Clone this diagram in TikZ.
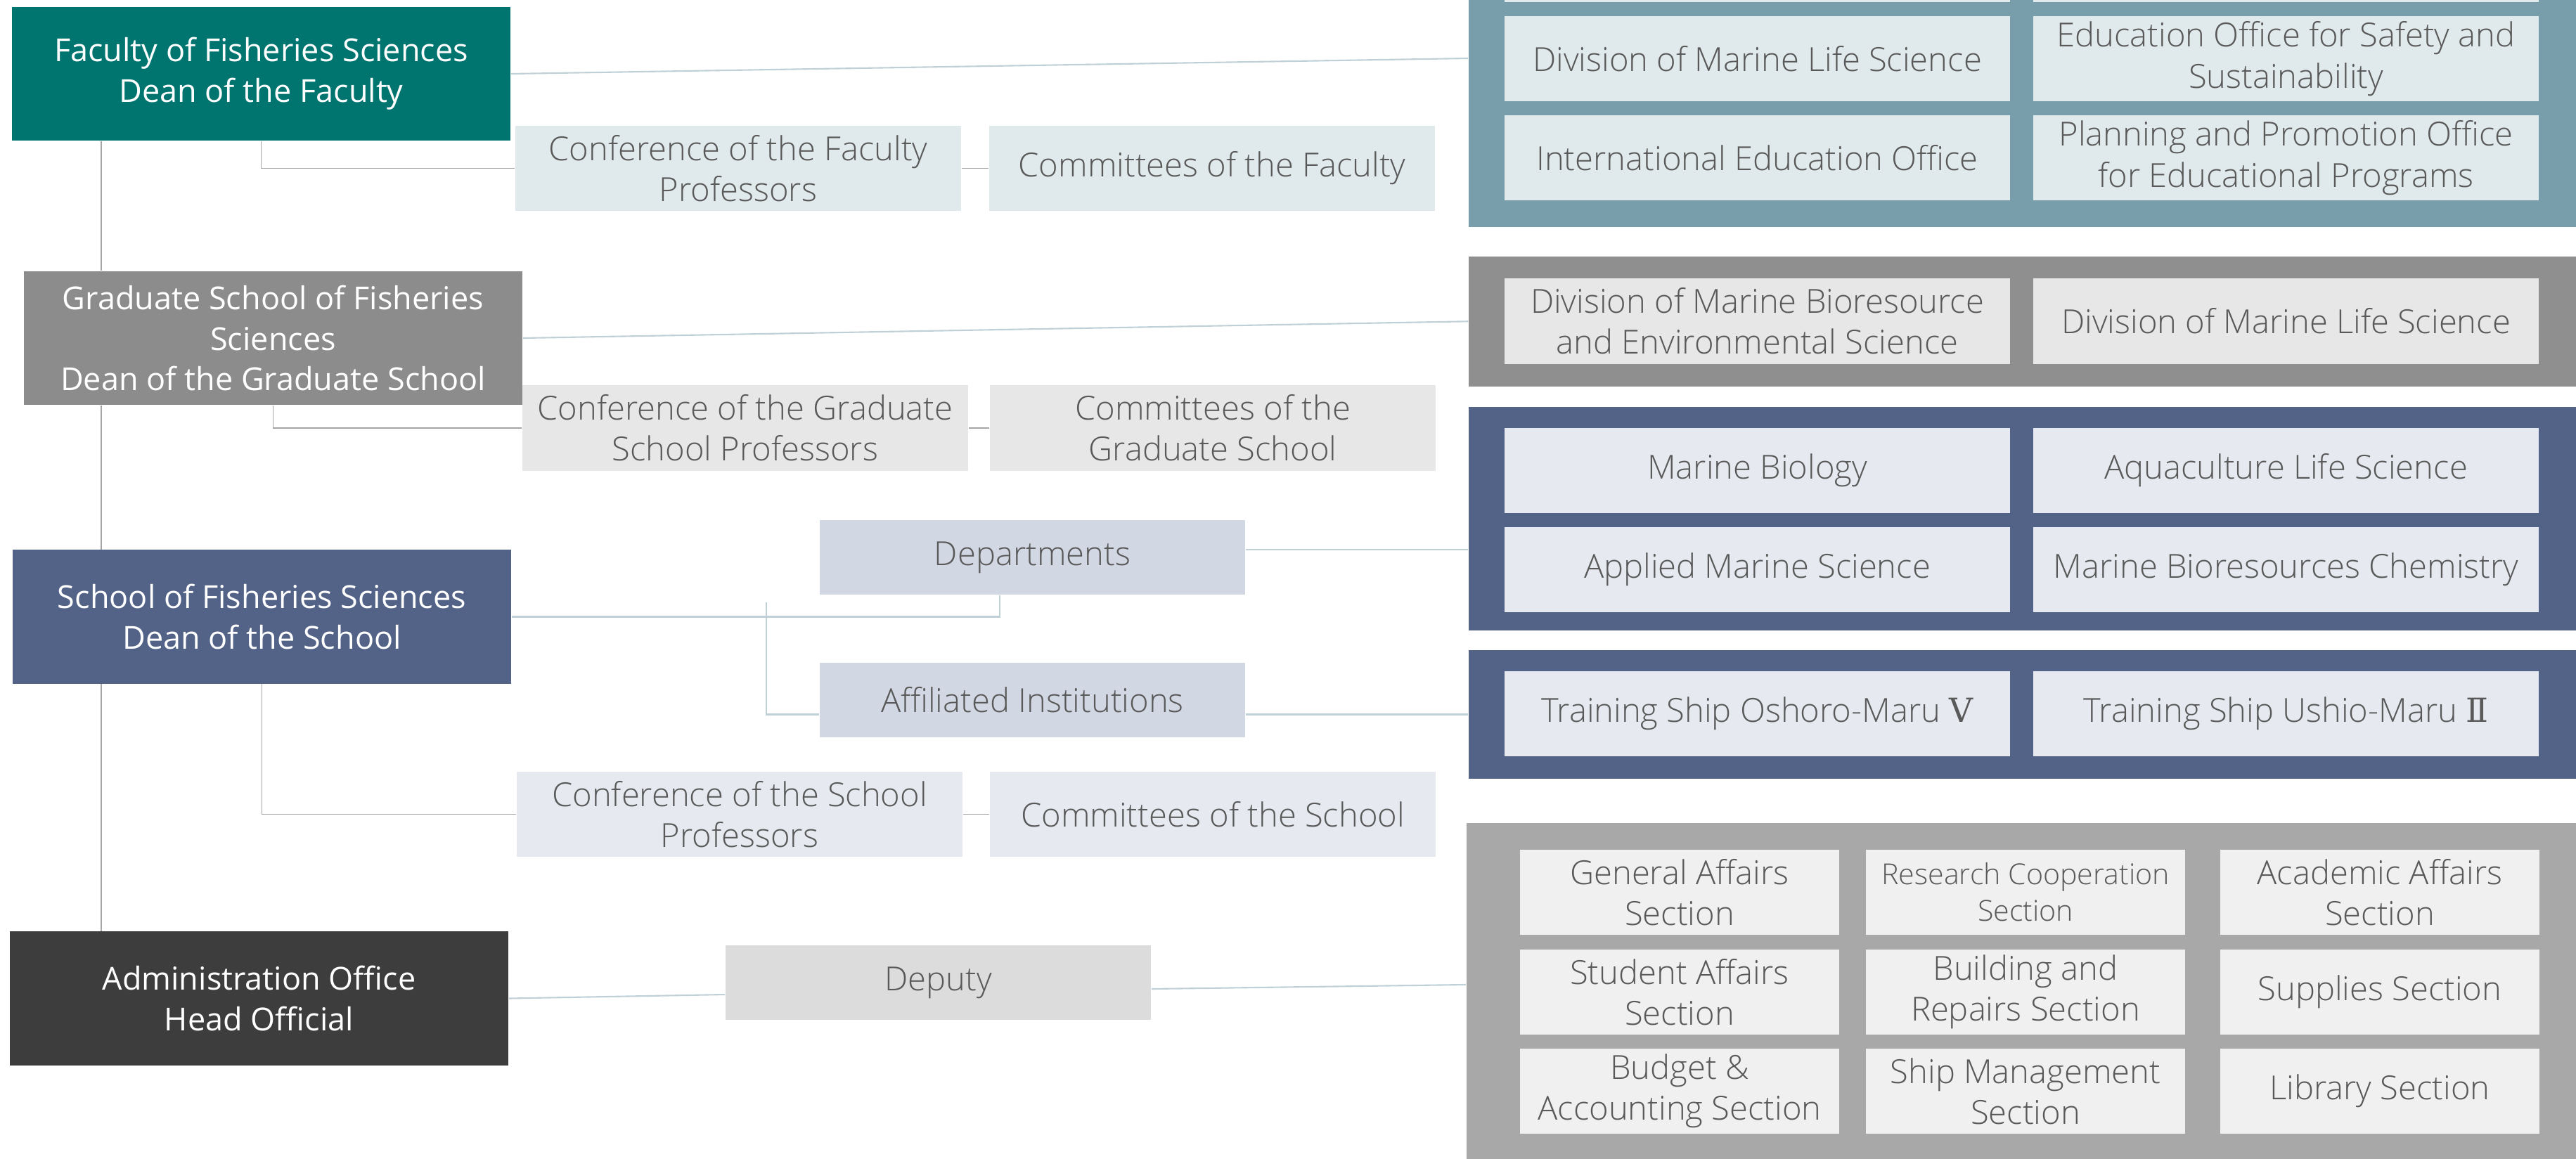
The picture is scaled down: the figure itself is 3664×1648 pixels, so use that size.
\documentclass[tikz,border=0pt]{standalone}
\usepackage{fontspec}
\setmainfont{Open Sans}
\IfFontExistsTF{Open Sans Light}
  {\newfontfamily\thinfont{Open Sans Light}}
  {\newfontfamily\thinfont{Open Sans}}
\newfontfamily\numfont{DejaVu Serif}
\newcommand\bodysize{\fontsize{12.8}{16.4}\selectfont}
\newcommand\thinsize{\fontsize{13.4}{16.6}\selectfont}
\newcommand\smallsize{\fontsize{11.7}{14.8}\selectfont}
\definecolor{facc}{RGB}{0,117,112}
\definecolor{gradc}{RGB}{140,140,140}
\definecolor{schc}{RGB}{83,99,135}
\definecolor{admc}{RGB}{61,61,61}
\definecolor{tealc}{RGB}{120,157,171}
\definecolor{greyc}{RGB}{143,143,143}
\definecolor{admblkc}{RGB}{168,168,168}
\definecolor{tealin}{RGB}{224,233,235}
\definecolor{grayin}{RGB}{231,231,231}
\definecolor{bluein}{RGB}{230,233,240}
\definecolor{deptc}{RGB}{210,216,227}
\definecolor{depc}{RGB}{220,220,220}
\definecolor{admin}{RGB}{240,240,240}
\definecolor{inkc}{RGB}{89,89,89}
\definecolor{linkc}{RGB}{192,208,215}
\definecolor{connc}{RGB}{165,165,165}
\begin{document}
\begin{tikzpicture}[x=0.01cm, y=-0.01cm,
  head/.style={text=white, align=center, inner sep=0pt, minimum width=7.09cm,
    minimum height=1.9cm, font=\bodysize},
  sub/.style={text=inkc, align=center, inner sep=0pt, minimum width=6.34cm,
    minimum height=1.21cm, font=\thinfont\thinsize},
  mid/.style={sub, minimum width=6.05cm, minimum height=1.06cm},
  cell/.style={sub, minimum width=7.19cm},
  sect/.style={sub, minimum width=4.54cm, fill=admin},
  blk/.style={inner sep=0pt, minimum width=15.75cm},
  link/.style={linkc, line width=0.6pt},
  conn/.style={connc, line width=0.45pt}]
  \useasboundingbox (0,0) rectangle (3664,1648);

  % left column: the four heads
  \node[head, fill=facc] (fac) at (371.5,105) {Faculty of Fisheries Sciences\\Dean of the Faculty};
  \node[head, fill=gradc] (grad) at (388.5,481) {Graduate School of Fisheries\\Sciences\\Dean of the Graduate School};
  \node[head, fill=schc] (sch) at (372.5,877.5) {School of Fisheries Sciences\\Dean of the School};
  \node[head, fill=admc] (adm) at (368.5,1420.5) {Administration Office\\Head Official};

  % middle column: conferences, committees, departments, deputy
  \node[sub, fill=tealin] (facconf) at (1050,239.5) {Conference of the Faculty\\Professors};
  \node[sub, fill=tealin] (faccom) at (1724,239.5) {Committees of the Faculty};
  \node[sub, fill=grayin] (gradconf) at (1060,609) {Conference of the Graduate\\School Professors};
  \node[sub, fill=grayin] (gradcom) at (1725,609) {Committees of the\\Graduate School};
  \node[mid, fill=deptc] (dept) at (1468.5,793) {Departments};
  \node[mid, fill=deptc] (affil) at (1468.5,996) {Affiliated Institutions};
  \node[sub, fill=bluein] (schconf) at (1052,1158.5) {Conference of the School\\Professors};
  \node[sub, fill=bluein] (schcom) at (1725,1158.5) {Committees of the School};
  \node[mid, fill=depc] (dep) at (1334.5,1398) {Deputy};

  % right column: faculty block (runs off the top edge)
  \node[blk, fill=tealc, minimum height=4.8cm] (facblk) at (2876.5,83) {};
  \node[cell, fill=tealin] (facx1) at (2499.5,-57.5) {};
  \node[cell, fill=tealin] (facx2) at (3251.5,-57.5) {};
  \node[cell, fill=tealin] (facd1) at (2499.5,83.5) {Division of Marine Life Science};
  \node[cell, fill=tealin] (facd2) at (3251.5,83.5) {Education Office for Safety and\\Sustainability};
  \node[cell, fill=tealin] (facd3) at (2499.5,224.5) {International Education Office};
  \node[cell, fill=tealin] (facd4) at (3251.5,224.5) {Planning and Promotion Office\\for Educational Programs};

  % graduate school divisions
  \node[blk, fill=greyc, minimum height=1.845cm] (gradblk) at (2877,457.25) {};
  \node[cell, fill=grayin] (gradd1) at (2499.5,457) {Division of Marine Bioresource\\and Environmental Science};
  \node[cell, fill=grayin] (gradd2) at (3251.5,457) {Division of Marine Life Science};

  % departments and ships
  \node[blk, fill=schc, minimum height=3.18cm] (deptblk) at (2877,738) {};
  \node[cell, fill=bluein] (dept1) at (2499.5,669.5) {Marine Biology};
  \node[cell, fill=bluein] (dept2) at (3251.5,669.5) {Aquaculture Life Science};
  \node[cell, fill=bluein] (dept3) at (2499.5,810.5) {Applied Marine Science};
  \node[cell, fill=bluein] (dept4) at (3251.5,810.5) {Marine Bioresources Chemistry};
  \node[blk, fill=schc, minimum height=1.83cm] (shipblk) at (2877,1016.5) {};
  \node[cell, fill=bluein] (ship1) at (2499.5,1015.5) {Training Ship Oshoro-Maru {\numfont Ⅴ}};
  \node[cell, fill=bluein] (ship2) at (3251.5,1015.5) {Training Ship Ushio-Maru {\numfont Ⅱ}};

  % administration sections (runs off the bottom edge)
  \node[blk, fill=admblkc, minimum width=15.78cm, minimum height=5.29cm] (admblk) at (2875,1435.5) {};
  \node[sect] (sec1) at (2389,1269.5) {General Affairs\\Section};
  \node[sect, font=\thinfont\smallsize] (sec2) at (2881,1269.5) {Research Cooperation\\Section};
  \node[sect] (sec3) at (3385,1269.5) {Academic Affairs\\Section};
  \node[sect] (sec4) at (2389,1411.5) {Student Affairs\\Section};
  \node[sect] (sec5) at (2881,1411.5) {Building and\\Repairs Section};
  \node[sect] (sec6) at (3385,1411.5) {Supplies Section};
  \node[sect] (sec7) at (2389,1552.5) {Budget \&\\Accounting Section};
  \node[sect] (sec8) at (2881,1552.5) {Ship Management\\Section};
  \node[sect] (sec9) at (3385,1552.5) {Library Section};

  % spine down the left column
  \coordinate (spine) at (144,0);
  \draw[conn] (fac.south -| spine) -- (grad.north -| spine);
  \draw[conn] (grad.south -| spine) -- (sch.north -| spine);
  \draw[conn] (sch.south -| spine) -- (adm.north -| spine);

  % conferences and committees
  \draw[conn] (fac.south) |- (facconf.west);
  \draw[conn] (facconf) -- (faccom);
  \draw[conn] (grad.south) |- (gradconf.west);
  \draw[conn] (gradconf) -- (gradcom);
  \draw[conn] (sch.south) |- (schconf.west);
  \draw[conn] (schconf) -- (schcom);

  % links across to the blocks
  \draw[link] (fac.east) -- (facblk.west);
  \draw[link] (grad.east) -- (gradblk.west);
  \draw[link] (sch.east) -| ([xshift=-4.65mm]dept.south);
  \coordinate (deptout) at ([yshift=1.1mm]dept.east);
  \draw[link] (deptout) -- (deptout -| deptblk.west);
  \coordinate (afftop) at (1090,857);
  \draw[link] (afftop) |- (affil.west |- shipblk.west);
  \draw[link] (affil.east |- shipblk.west) -- (shipblk.west);
  \draw[link] (adm.east) -- ([yshift=-1.7mm]dep.west);
  \draw[link] ([yshift=-0.9mm]dep.east) -- ([yshift=3.45mm]admblk.west);
\end{tikzpicture}
\end{document}
